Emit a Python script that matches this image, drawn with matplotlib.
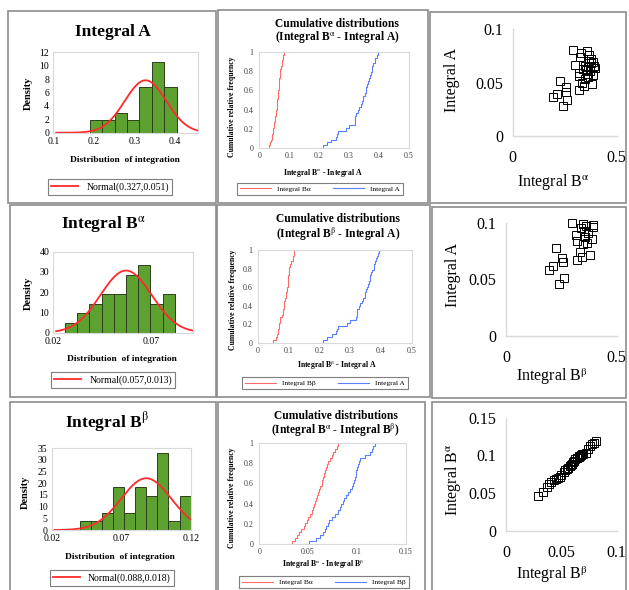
import numpy as np
import matplotlib
matplotlib.use('Agg')
import matplotlib.pyplot as plt
from matplotlib.patches import Rectangle
from matplotlib.ticker import FuncFormatter

W, H = 629, 590

# 34 paired runs, listed in order of Integral B-alpha
integral_ba = [0.0285, 0.0335, 0.037, 0.039, 0.041, 0.043, 0.0455, 0.047,
               0.0485, 0.050, 0.052, 0.0535, 0.055, 0.056, 0.0575, 0.0585,
               0.0595, 0.0605, 0.0615, 0.0625, 0.0638, 0.0645, 0.0655, 0.066,
               0.067, 0.068, 0.069, 0.070, 0.072, 0.0745, 0.076, 0.078,
               0.0795, 0.081]
integral_bb = [0.046, 0.051, 0.058, 0.062, 0.0655, 0.067, 0.0685, 0.070,
               0.0712, 0.074, 0.078, 0.081, 0.0825, 0.084, 0.0855, 0.087,
               0.089, 0.091, 0.093, 0.095, 0.0965, 0.097, 0.098, 0.0988,
               0.0995, 0.1005, 0.1015, 0.1025, 0.1035, 0.108, 0.113, 0.115,
               0.117, 0.119]
integral_a = [0.240, 0.262, 0.196, 0.212, 0.258, 0.321, 0.255, 0.343,
              0.380, 0.332, 0.226, 0.348, 0.364, 0.321, 0.388, 0.356,
              0.318, 0.372, 0.352, 0.340, 0.395, 0.360, 0.392, 0.348,
              0.300, 0.378, 0.385, 0.369, 0.376, 0.324, 0.366, 0.329,
              0.358, 0.290]

# histogram bin edges
bins_a = [0.19, 0.2205, 0.251, 0.2815, 0.312, 0.3425, 0.373, 0.4035]
bins_ba = [0.026, 0.0322, 0.0384, 0.0446, 0.0508, 0.057, 0.0632, 0.0694,
           0.0756, 0.0818]
bins_bb = [0.04, 0.048, 0.056, 0.064, 0.072, 0.08, 0.088, 0.096, 0.104,
           0.112, 0.12]

# fitted normal parameters (mean, sd)
norm_a = (0.327, 0.051)
norm_ba = (0.057, 0.013)
norm_bb = (0.088, 0.018)

BA = r'B$^{\mathrm{α}}$'
BB = r'B$^{\mathrm{β}}$'

plt.rcParams['font.family'] = ['Liberation Serif', 'DejaVu Serif']
plt.rcParams['mathtext.fontset'] = 'stix'

GREEN = '#5da130'
LIGHT = '#d9d9d9'
fmt = FuncFormatter(lambda v, p: '{:g}'.format(round(v, 4)))

fig = plt.figure(figsize=(W / 100, H / 100), dpi=100)


def rect(x0, y0, x1, y1):
    return [x0 / W, 1 - y1 / H, (x1 - x0) / W, (y1 - y0) / H]


def ftext(x, y, s, **kw):
    fig.text(x / W, 1 - y / H, s, ha='center', va='center', **kw)


def frame(x0, y0, x1, y1):
    fig.patches.append(Rectangle((x0 / W, 1 - y1 / H), (x1 - x0) / W,
                                 (y1 - y0) / H, transform=fig.transFigure,
                                 fill=False, ec='#8c8c8c', lw=1.2))


def boxed(ax):
    for s in ax.spines.values():
        s.set_color(LIGHT)
        s.set_linewidth(0.8)


def hist_panel(box, data, bins, xlim, xticks, ylim, yticks, norm, title,
               title_xy, ylab_xy, xlab_xy, leg_xy):
    ax = fig.add_axes(rect(*box))
    ax.hist(data, bins=bins, density=True, color=GREEN, ec='#2b3f1c', lw=0.7)
    mu, sd = norm
    xs = np.linspace(xlim[0] + 0.02 * (xlim[1] - xlim[0]), xlim[1], 300)
    ys = np.exp(-0.5 * ((xs - mu) / sd) ** 2) / (sd * np.sqrt(2 * np.pi))
    line, = ax.plot(xs, ys, color='#ff2a2a', lw=1.3)
    ax.set_xlim(*xlim)
    ax.set_ylim(*ylim)
    ax.set_xticks(xticks)
    ax.set_yticks(yticks)
    ax.xaxis.set_major_formatter(fmt)
    ax.yaxis.set_major_formatter(fmt)
    ax.tick_params(length=0, labelsize=7, pad=3)
    boxed(ax)
    ftext(*title_xy, title, fontsize=12.5, fontweight='bold')
    ftext(*ylab_xy, 'Density', fontsize=7.5, fontweight='bold', rotation=90)
    ftext(*xlab_xy, 'Distribution  of integration', fontsize=6.8,
          fontweight='bold')
    leg = ax.legend([line], ['Normal({},{})'.format(*norm)], loc='center',
                    bbox_to_anchor=(leg_xy[0] / W, 1 - leg_xy[1] / H),
                    bbox_transform=fig.transFigure, fontsize=7,
                    fancybox=False, edgecolor='#7f7f7f', framealpha=1,
                    handlelength=2.8, borderpad=0.35)
    leg.get_frame().set_linewidth(0.8)


def cdf_panel(box, red, blue, names, xlim, xticks, title, xlab, title_y,
              ylab_xy, xlab_xy, leg_xy):
    ax = fig.add_axes(rect(*box))
    h = []
    for v, c in ((red, '#ff6b6b'), (blue, '#5b7fff')):
        v = np.sort(v)
        h.append(ax.step(v, np.linspace(0, 1, len(v)), where='post',
                         color=c, lw=0.8)[0])
    ax.set_xlim(*xlim)
    ax.set_ylim(0, 1)
    ax.set_xticks(xticks)
    ax.set_yticks([0, 0.2, 0.4, 0.6, 0.8, 1])
    ax.xaxis.set_major_formatter(fmt)
    ax.yaxis.set_major_formatter(fmt)
    ax.tick_params(length=0, labelsize=5.8, pad=4, colors='#404040')
    ax.tick_params(axis='x', pad=3)
    boxed(ax)
    cx = (box[0] + box[2]) / 2 + 3
    ftext(cx, title_y[0], 'Cumulative distributions', fontsize=8.3,
          fontweight='bold')
    ftext(cx, title_y[1], title, fontsize=8.3, fontweight='bold')
    ftext(*ylab_xy, 'Cumulative relative frequency', fontsize=5.6,
          fontweight='bold', rotation=90)
    ftext(*xlab_xy, xlab, fontsize=5.6, fontweight='bold')
    leg = ax.legend(h, names, loc='center', ncol=2,
                    bbox_to_anchor=(leg_xy[0] / W, 1 - leg_xy[1] / H),
                    bbox_transform=fig.transFigure, fontsize=5.3,
                    fancybox=False, edgecolor='#7f7f7f', framealpha=1,
                    handlelength=4.2, columnspacing=3, borderpad=0.45)
    leg.get_frame().set_linewidth(0.8)


def scatter_panel(box, x, y, xlim, xticks, ylim, yticks, xlab, ylab,
                  xlab_xy, ylab_xy):
    ax = fig.add_axes(rect(*box))
    x = np.asarray(x)
    y = np.asarray(y)
    keep = (x <= xlim[1]) & (y <= ylim[1])
    ax.plot(x[keep], y[keep], 's', mfc='none', mec='black', ms=5.2,
            mew=0.7, clip_on=False)
    ax.set_xlim(*xlim)
    ax.set_ylim(*ylim)
    ax.set_xticks(xticks)
    ax.set_yticks(yticks)
    ax.xaxis.set_major_formatter(fmt)
    ax.yaxis.set_major_formatter(fmt)
    ax.tick_params(length=0, labelsize=11.5, pad=7)
    ax.tick_params(axis='x', pad=10)
    for s in ('top', 'right'):
        ax.spines[s].set_visible(False)
    for s in ('left', 'bottom'):
        ax.spines[s].set_color(LIGHT)
        ax.spines[s].set_linewidth(1)
    ftext(*xlab_xy, xlab, fontsize=11.5)
    ftext(*ylab_xy, ylab, fontsize=11.5, rotation=90)


# panel frames
for f in [(8, 11, 216, 203), (218, 10, 428, 203), (430, 12, 626, 203),
          (10, 205, 216, 397), (217, 205, 430, 397), (432, 207, 626, 398),
          (10, 402, 216, 592), (218, 402, 425, 592), (432, 402, 626, 592)]:
    frame(*f)

# column 1: histograms
hist_panel((53.3, 52.3, 198.3, 132.7), integral_a, bins_a, (0.1, 0.457),
           [0.1, 0.2, 0.3, 0.4], (0, 12), range(0, 13, 2), norm_a,
           'Integral A', (113, 32), (28, 93), (125, 160), (110, 187))
hist_panel((53.3, 251.7, 192.7, 332.7), integral_ba, bins_ba, (0.02, 0.0909),
           [0.02, 0.07], (0, 40), range(0, 41, 10), norm_ba,
           'Integral ' + BA, (103, 225), (28, 293), (122, 359), (113, 380))
hist_panel((51.7, 448.3, 190.7, 530), integral_bb, bins_bb, (0.02, 0.12),
           [0.02, 0.07, 0.12], (0, 35), range(0, 36, 5), norm_bb,
           'Integral ' + BB, (107, 422), (25, 492), (120, 557), (112, 578))

# column 2: cumulative distributions
cdf_panel((259.3, 51.7, 409, 148.3), integral_ba, integral_a,
          ['Integral B\u03b1', 'Integral A'], (0, 0.5),
          [0, 0.1, 0.2, 0.3, 0.4, 0.5], '(Integral ' + BA + ' - Integral A)',
          'Integral ' + BA + ' - Integral A', (24, 37), (232, 107),
          (323, 173), (320, 189))
cdf_panel((257.7, 250, 411.7, 342.7), integral_bb, integral_a,
          ['Integral B\u03b2', 'Integral A'], (0, 0.5),
          [0, 0.1, 0.2, 0.3, 0.4, 0.5], '(Integral ' + BB + ' - Integral A)',
          'Integral ' + BB + ' - Integral A', (219, 234), (233, 300),
          (337, 365), (325, 383))
cdf_panel((259.3, 442.7, 405.7, 544.3), integral_ba, integral_bb,
          ['Integral B\u03b1', 'Integral B\u03b2'], (0, 0.15),
          [0, 0.05, 0.1, 0.15], '(Integral ' + BA + ' - Integral ' + BB + ')',
          'Integral ' + BA + ' - Integral ' + BB, (416, 430), (232, 498),
          (323, 564), (324, 582))

# column 3: scatter plots
scatter_panel((512.7, 29.3, 616.7, 136), integral_a, integral_ba, (0, 0.5),
              [0, 0.5], (0, 0.1), [0, 0.05, 0.1], 'Integral ' + BA,
              'Integral A', (553, 182), (452, 80))
scatter_panel((506, 222.7, 616.7, 336), integral_a, integral_bb, (0, 0.5),
              [0, 0.5], (0, 0.1), [0, 0.05, 0.1], 'Integral ' + BB,
              'Integral A', (552, 377), (453, 275))
scatter_panel((506, 417.7, 616.7, 531), integral_ba, integral_bb, (0, 0.1),
              [0, 0.05, 0.1], (0, 0.15), [0, 0.05, 0.1, 0.15],
              'Integral ' + BB, 'Integral ' + BA, (552, 575), (453, 480))

fig.savefig('out.png', dpi=100)
